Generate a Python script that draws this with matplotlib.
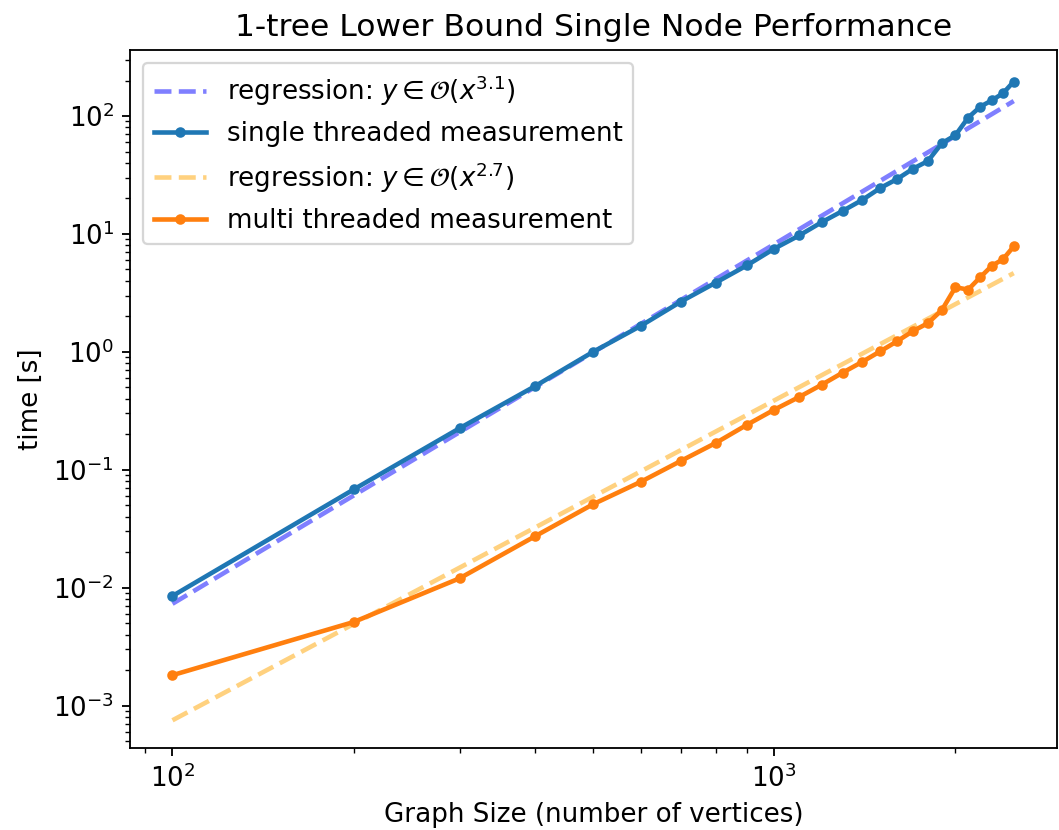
import numpy as np
import matplotlib.pyplot as plt

# graph sizes (number of vertices)
sizes = [100, 200, 300, 400, 500, 600, 700, 800, 900, 1000,
         1100, 1200, 1300, 1400, 1500, 1600, 1700, 1800, 1900, 2000,
         2100, 2200, 2300, 2400, 2500]

# measured run times [s]
single = [0.0085, 0.068, 0.225, 0.51, 1.0, 1.66, 2.67, 3.87, 5.4, 7.5,
          9.7, 12.6, 15.7, 19.4, 24.5, 29.2, 35.7, 41.5, 59, 68.7,
          97, 120, 136, 156, 196]
multi = [0.00181, 0.00511, 0.0120, 0.0272, 0.051, 0.079, 0.119, 0.169, 0.240, 0.323,
         0.414, 0.527, 0.667, 0.822, 1.01, 1.23, 1.50, 1.75, 2.27, 3.53,
         3.37, 4.30, 5.37, 6.11, 7.84]

# regression lines (end points)
reg_x = [100, 2500]
reg_single = [0.0073, 134]
reg_multi = [0.00075, 4.65]

plt.rcParams["font.size"] = 11.4

fig, ax = plt.subplots(figsize=(1059 / 165, 830 / 165), dpi=165)
fig.subplots_adjust(left=130 / 1059, right=1057 / 1059, top=1 - 50 / 830, bottom=1 - 748 / 830)

ax.plot(reg_x, reg_single, "--", color="blue", alpha=0.5, lw=2,
        label=r"regression: $y \in \mathcal{O}(x^{3.1})$")
ax.plot(sizes, single, "-o", color="tab:blue", lw=2, ms=3.6,
        label="single threaded measurement")
ax.plot(reg_x, reg_multi, "--", color="orange", alpha=0.5, lw=2,
        label=r"regression: $y \in \mathcal{O}(x^{2.7})$")
ax.plot(sizes, multi, "-o", color="tab:orange", lw=2, ms=3.6,
        label="multi threaded measurement")

ax.set_xscale("log")
ax.set_yscale("log")
ax.set_xlim(85, 2950)
ax.set_ylim(10 ** -3.36, 10 ** 2.56)
ax.set_xlabel("Graph Size (number of vertices)")
ax.set_ylabel("time [s]")
ax.set_title("1-tree Lower Bound Single Node Performance")
ax.legend(loc="upper left")

fig.savefig("out.png")
